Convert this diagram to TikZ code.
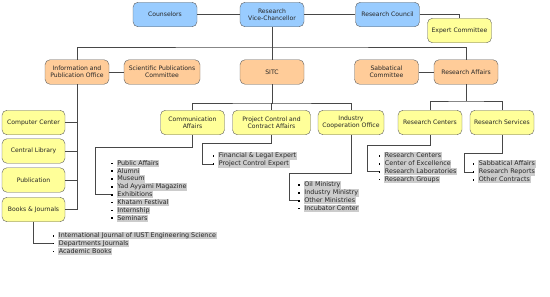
\documentclass[tikz,border=0pt]{standalone}
\usepackage{fontspec}
\setmainfont{DejaVu Sans}
\usepackage{xcolor}
\usetikzlibrary{positioning}

\definecolor{vcblue}{RGB}{153,204,255}
\definecolor{offorange}{RGB}{255,204,153}
\definecolor{unityellow}{RGB}{255,255,153}
\definecolor{edgegray}{RGB}{95,95,95}

% one bulleted list: prefix, x, y of first line, items
\newcommand{\bullist}[4]{%
  \foreach \t [count=\i] in {#4} {
    \node[bul] (#1b\i) at (#2,{#3+7.85*(\i-1)}) {};
    \node[itm] (#1i\i) at ({#2+4.6},{#3+7.85*(\i-1)}) {\t};
  }}

\begin{document}
\begin{tikzpicture}[
  x=1pt, y=-1pt,
  box/.style={draw=edgegray, rounded corners=5pt, minimum width=64pt,
              minimum height=24.5pt, align=center, inner sep=1pt,
              text=black!85, font=\fontsize{6.1}{7.3}\selectfont},
  topbox/.style={box, fill=vcblue},
  office/.style={box, fill=offorange},
  unit/.style={box, fill=unityellow},
  conn/.style={draw=black!72, line width=0.7pt},
  bul/.style={fill=black, minimum size=1.6pt, inner sep=0pt},
  itm/.style={fill=black!20, anchor=west, inner xsep=0.6pt, inner ysep=0pt,
              text height=5.6pt, text depth=1.7pt, text=black!85,
              font=\fontsize{6.4}{7.2}\selectfont},
]
\useasboundingbox (0,0) rectangle (550,297);

% top row
\node[topbox] (coun)  at (165,14.5)   {Counselors};
\node[topbox] (vc)    at (272,14.5)   {Research\\Vice-Chancellor};
\node[topbox] (rcou)  at (387.5,14.5) {Research Council};
\node[unit]   (expc)  at (459.5,30.5) {Expert Committee};

% offices
\node[office] (info)  at (77,72)      {Information and\\Publication Office};
\node[office, minimum width=76pt] (spc) at (162,72) {Scientific Publications\\Committee};
\node[office] (sitc)  at (272,72)     {SITC};
\node[office] (sabc)  at (386.5,72)   {Sabbatical\\Committee};
\node[office] (raff)  at (466,72)     {Research Affairs};

% units
\node[unit, minimum width=63pt] (comp)  at (33.5,122.5) {Computer Center};
\node[unit, minimum width=63pt] (clib)  at (33.5,151)   {Central Library};
\node[unit, minimum width=63pt] (pub)   at (33.5,180)   {Publication};
\node[unit, minimum width=63pt] (books) at (33.5,209.5) {Books \& Journals};
\node[unit] (comm)  at (192.5,122.5) {Communication\\Affairs};
\node[unit, minimum width=78pt] (pcca) at (271.5,122.5) {Project Control and\\Contract Affairs};
\node[unit, minimum width=66pt] (ico) at (351,122.5) {Industry\\Cooperation Office};
\node[unit] (rcen)  at (430,122.5)  {Research Centers};
\node[unit] (rserv) at (502,122.5)  {Research Services};

% lists
\bullist{comm}{112}{163.3}{Public Affairs, Alumni, Museum, Yad Ayyami Magazine,
  Exhibitions, Khatam Festival, Internship, Seminars}
\bullist{pcca}{213.5}{156}{Financial \& Legal Expert, Project Control Expert}
\bullist{ico}{299}{185}{Oil Ministry, Industry Ministry, Other Ministries,
  Incubator Center}
\bullist{rcen}{379.5}{156}{Research Centers, Center of Excellence,
  Research Laboratories, Research Groups}
\bullist{rserv}{473.5}{164}{Sabbatical Affairs, Research Reports, Other Contracts}
\bullist{books}{53.5}{235.7}{International Journal of IUST Engineering Science,
  Departments Journals, Academic Books}

% bends
\coordinate (bus)    at (272,47);
\coordinate (sbus)   at (272,103);
\coordinate (rbus)   at (466,101);
\coordinate (commk)  at (95,147.7);
\coordinate (pccak)  at (202.7,143.3);
\coordinate (icok)   at (289,173.7);
\coordinate (rcenk)  at (367.3,145);
\coordinate (rservk) at (464.3,153.3);

% connectors
\draw[conn] (coun) -- (vc);
\draw[conn] (vc) -- (rcou);
\draw[conn] (rcou.east) -| (expc.north);
\draw[conn] (vc.south) -- (sitc.north);
\draw[conn] (info.north) |- (bus) -| (raff.north);
\draw[conn] (info) -- (spc);
\draw[conn] (sabc) -- (raff);
\draw[conn] (info.south) |- (books.east);
\foreach \n in {comp,clib,pub}
  \draw[conn] (\n.east) -- (\n.east -| info.south);
\draw[conn] (sitc.south) -- (sbus);
\draw[conn] (comm.north) |- (sbus) -| (ico.north);
\draw[conn] (sbus) -| (pcca.north);
\draw[conn] (raff.south) -- (rbus);
\draw[conn] (rcen.north) |- (rbus) -| (rserv.north);
\draw[conn] (comm.south) |- (commk) |- (commb5.west);
\draw[conn] (pcca.south) |- (pccak) |- (pccab2.west);
\draw[conn] (ico.south) |- (icok) |- (icob3.west);
\draw[conn] (rcen.south) |- (rcenk) |- (rcenb3.west);
\draw[conn] (rserv.south) |- (rservk) |- (rservb2.west);
\draw[conn] (books.south) |- (booksb2.west);
\end{tikzpicture}
\end{document}
